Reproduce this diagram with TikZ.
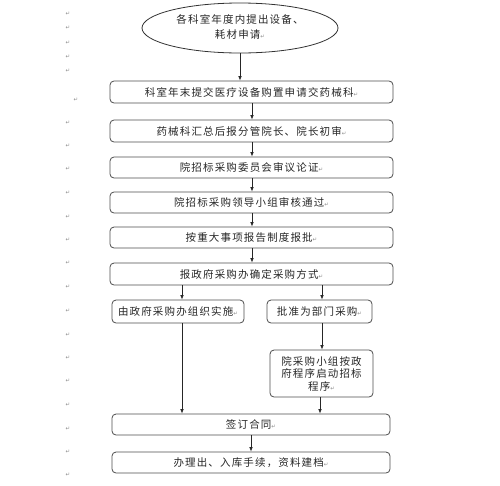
\documentclass[tikz,border=0pt]{standalone}
\usepackage{fontspec}
\usetikzlibrary{shapes.geometric,arrows.meta,positioning}
\newfontfamily\cjk{Noto Sans CJK SC}[LetterSpace=11]
\newfontfamily\dvs{DejaVu Sans}
\newcommand\rmk{{\dvs\fontsize{5.5}{6}\selectfont\textcolor{black!45}{↵}}}
\tikzset{
  x=1pt,y=-1pt,
  flowbox/.style={draw=black!70,line width=0.8pt,rounded corners=4pt,inner sep=0pt,
    font=\cjk\fontsize{10.5}{12.5}\selectfont,text=black!85,align=center},
  oval/.style={draw=black!80,line width=0.8pt,ellipse,inner sep=0pt,
    minimum width=196pt,minimum height=50pt,
    font=\cjk\fontsize{10.5}{15}\selectfont,text=black!85},
  arr/.style={draw=black!85,line width=0.7pt,-{Latex[length=4.5pt,width=3.6pt]}},
  pmark/.style={inner sep=0pt,font=\dvs\fontsize{5.5}{6}\selectfont,text=black!45}
}
\begin{document}
\begin{tikzpicture}
\useasboundingbox (0,0) rectangle (500,485);
% margin paragraph marks
\foreach \yy in {14,28,43,57,71,123,146,169,193,217,240,263,287,311,335,358,381,405,429,452,475}
  \node[pmark] (pm\yy) at (68,\yy) {↵};
\node[pmark] (pmx) at (76,100) {↵};

\node[oval] (e) at (240,28) {\raisebox{3pt}{\begin{tabular}{@{}c@{}}各科室年度内提出设备、\\耗材申请\rmk\end{tabular}}};

\node[flowbox,minimum width=283pt,minimum height=22pt] (b1) at (251.5,92) {科室年末提交医疗设备购置申请交药械科\rmk};
\node[flowbox,minimum width=283pt,minimum height=22pt] (b2) at (251.5,131) {药械科汇总后报分管院长、院长初审\rmk};
\node[flowbox,minimum width=283pt,minimum height=21pt] (b3) at (251.5,167.5) {院招标采购委员会审议论证\rmk};
\node[flowbox,minimum width=283pt,minimum height=21pt] (b4) at (251.5,202.5) {院招标采购领导小组审核通过\rmk};
\node[flowbox,minimum width=283pt,minimum height=21pt] (b5) at (251.5,237.5) {按重大事项报告制度报批\rmk};
\node[flowbox,minimum width=283pt,minimum height=22pt] (b6) at (251.5,274) {报政府采购办确定采购方式\rmk};

\node[flowbox,minimum width=132pt,minimum height=23pt] (lb) at (178,311.5) {由政府采购办组织实施\rmk};
\node[flowbox,minimum width=105pt,minimum height=23pt] (rb) at (319.5,311.5) {批准为部门采购\rmk};
\node[flowbox,minimum width=103pt,minimum height=47pt] (tb) at (321.5,373.5) {院采购小组按政\\府程序启动招标\\程序\rmk};

\node[flowbox,minimum width=278pt,minimum height=21pt] (sg) at (251,424.5) {签订合同\rmk};
\node[flowbox,minimum width=278pt,minimum height=21pt] (bl) at (251,462.5) {办理出、入库手续，资料建档\rmk};

\coordinate (xa) at (240,0);
\coordinate (xb) at (252,0);
\coordinate (xl) at (182,0);
\coordinate (xr) at (322,0);
\coordinate (xt) at (320,0);
\coordinate (xs) at (251,0);

\draw[arr] (e.south -| xa) -- (b1.north -| xa);
\draw[arr] (b1.south -| xb) -- (b2.north -| xb);
\draw[arr] (b2.south -| xb) -- (b3.north -| xb);
\draw[arr] (b3.south -| xb) -- (b4.north -| xb);
\draw[arr] (b4.south -| xb) -- (b5.north -| xb);
\draw[arr] (b5.south -| xb) -- (b6.north -| xb);
\draw[arr] (b6.south -| xl) -- (lb.north -| xl);
\draw[arr] (b6.south -| xr) -- (rb.north -| xr);
\draw[arr] (rb.south -| xr) -- (tb.north -| xr);
\draw[arr] (lb.south -| xl) -- (sg.north -| xl);
\draw[arr] (tb.south -| xt) -- (sg.north -| xt);
\draw[arr] (sg.south -| xs) -- (bl.north -| xs);
\end{tikzpicture}
\end{document}
